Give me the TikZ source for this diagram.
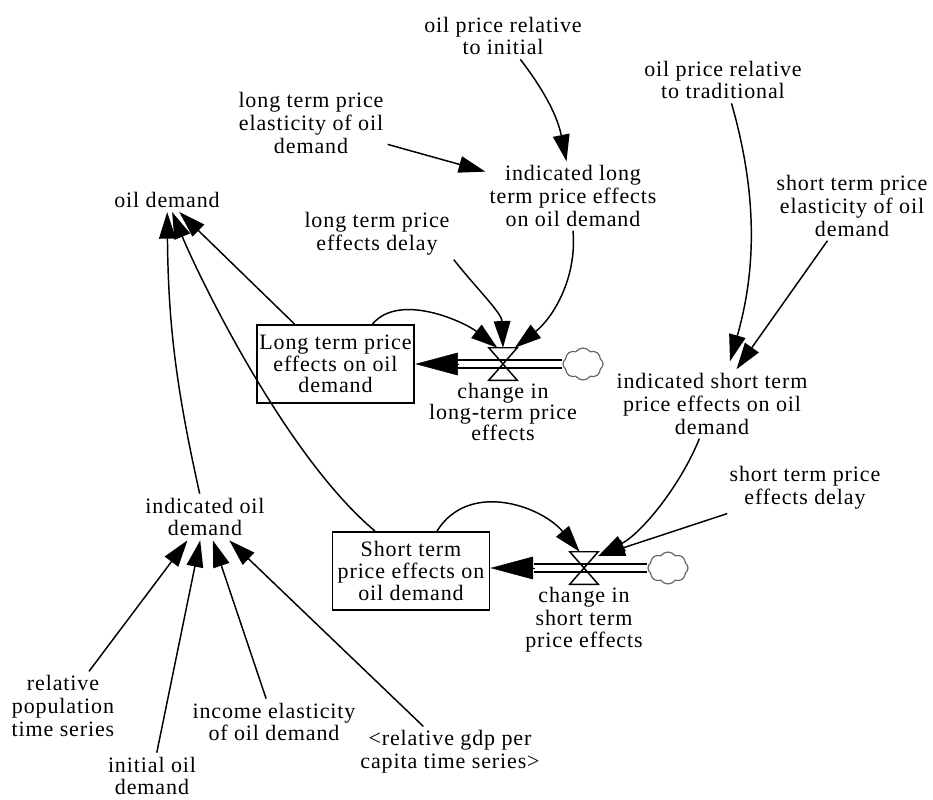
\documentclass[tikz,border=0pt]{standalone}
\usepackage{fontspec}
\setmainfont{Liberation Serif}[LetterSpace=4.0]
\usetikzlibrary{arrows.meta,shapes.symbols,calc}

\begin{document}
\begin{tikzpicture}[x=0.75pt,y=0.75pt,
  every node/.style={font=\fontsize{16.5pt}{17pt}\selectfont},
  var/.style={align=center, inner sep=3pt},
  stock/.style={draw, line width=1.4pt, align=center, inner sep=2pt,
    minimum width=117.75pt, minimum height=58.5pt,
    font=\fontsize{16.5pt}{16.3pt}\selectfont},
  valve/.style={minimum width=21pt, minimum height=24pt, inner sep=0pt},
  sink/.style={cloud, cloud puffs=8, cloud puff arc=110, cloud ignores aspect,
    draw=black!60, line width=0.9pt, minimum width=30pt, minimum height=24pt,
    inner sep=0pt},
  flowlabel/.style={align=center, inner sep=0pt,
    font=\fontsize{16.5pt}{13pt}\selectfont},
  link/.style={line width=1.1pt, -{Triangle[length=20pt,width=12.5pt]}},
  pipe/.style={double, line width=1pt, double distance=5pt},
  flowhead/.style={line width=0.4pt, -{Triangle[length=32pt,width=17pt]}}]

\useasboundingbox (0,0) rectangle (933,-800);

% auxiliaries and constants
\node[var] (od) at (167,-200) {oil demand};
\node[var] (opri) at (503,-36) {oil price relative\\to initial};
\node[var] (ltel) at (311,-123) {long term price\\elasticity of oil\\demand};
\node[var] (ilt) at (573,-196) {indicated long\\term price effects\\on oil demand};
\node[var] (oprt) at (723,-80) {oil price relative\\to traditional};
\node[var] (stel) at (852,-206) {short term price\\elasticity of oil\\demand};
\node[var] (ltdel) at (377,-234) {long term price\\effects delay};
\node[var] (ist) at (712,-404) {indicated short term\\price effects on oil\\demand};
\node[var] (stdel) at (805,-488) {short term price\\effects delay};
\node[var] (iod) at (205,-517) {indicated oil\\demand};
\node[var] (rpop) at (63,-706) {relative\\population\\time series};
\node[var] (iniod) at (152,-776) {initial oil\\demand};
\node[var] (incel) at (274,-722) {income elasticity\\of oil demand};
\node[var] (rgdp) at (450,-752) {<relative gdp per\\capita time series>};

% stocks, valves and sources
\node[stock] (ltbox) at (335.5,-364) {Long term price\\effects on oil\\demand};
\node[valve] (v1) at (503,-364) {};
\node[sink] (c1) at (583,-364) {};
\node[flowlabel] (ltflow) at (503,-412) {change in\\long-term price\\effects};

\node[stock] (stbox) at (411,-571) {Short term\\price effects on\\oil demand};
\node[valve] (v2) at (584,-568) {};
\node[sink] (c2) at (668,-568) {};
\node[var] (stflow) at (584,-620) {change in\\short term\\price effects};

% flow pipes
\draw[pipe, shorten >=31pt] (c1.west) -- (ltbox.east);
\draw[flowhead] ($(ltbox.east)+(43,0)$) -- (ltbox.east);
\draw[pipe, shorten >=33pt] (c2.west) -- (stbox.east |- v2);
\draw[flowhead] ($(stbox.east |- v2)+(45,0)$) -- (stbox.east |- v2);

% valve bow-ties
\draw[line width=1.1pt] (v1.north west) -- (v1.north east) -- (v1.south west) -- (v1.south east) -- cycle;
\draw[line width=1.1pt] (v2.north west) -- (v2.north east) -- (v2.south west) -- (v2.south east) -- cycle;

% information links
\draw[link] (opri) to[bend left=13] (ilt);
\draw[link] (ltel) -- (ilt);
\draw[link] (ilt.south) .. controls +(-85:48) and +(38:48) .. (v1.54);
\draw[link] (ltdel.south east) .. controls +(-52:35) and +(92:35) .. (v1.north);
\draw[link] ($(ltbox.north)+(37,0)$) .. controls +(50:42) and +(142:42) .. (v1.109);

\draw[link] (oprt.-70) .. controls +(-74:95) and +(74:95) .. ($(ist.north)+(18,8)$);
\draw[link] (stel) -- (ist);
\draw[link] (ist.-110) .. controls +(-112:50) and +(28:50) .. (v2.40);
\draw[link] (stdel) -- (v2.40);
\draw[link] ($(stbox.north)+(26,0)$) .. controls +(58:60) and +(130:60) .. (v2.105);

\draw[link] (ltbox) -- (od);
\draw[link] ($(stbox.north)+(-36,0)$) .. controls +(140:117) and +(-67.5:70) .. (od.-67);
\draw[link] (iod) to[bend left=6] (od);

\draw[link] (rpop) -- (iod);
\draw[link] (iniod) -- (iod);
\draw[link] (incel) -- (iod);
\draw[link] (rgdp) -- (iod);
\end{tikzpicture}
\end{document}
